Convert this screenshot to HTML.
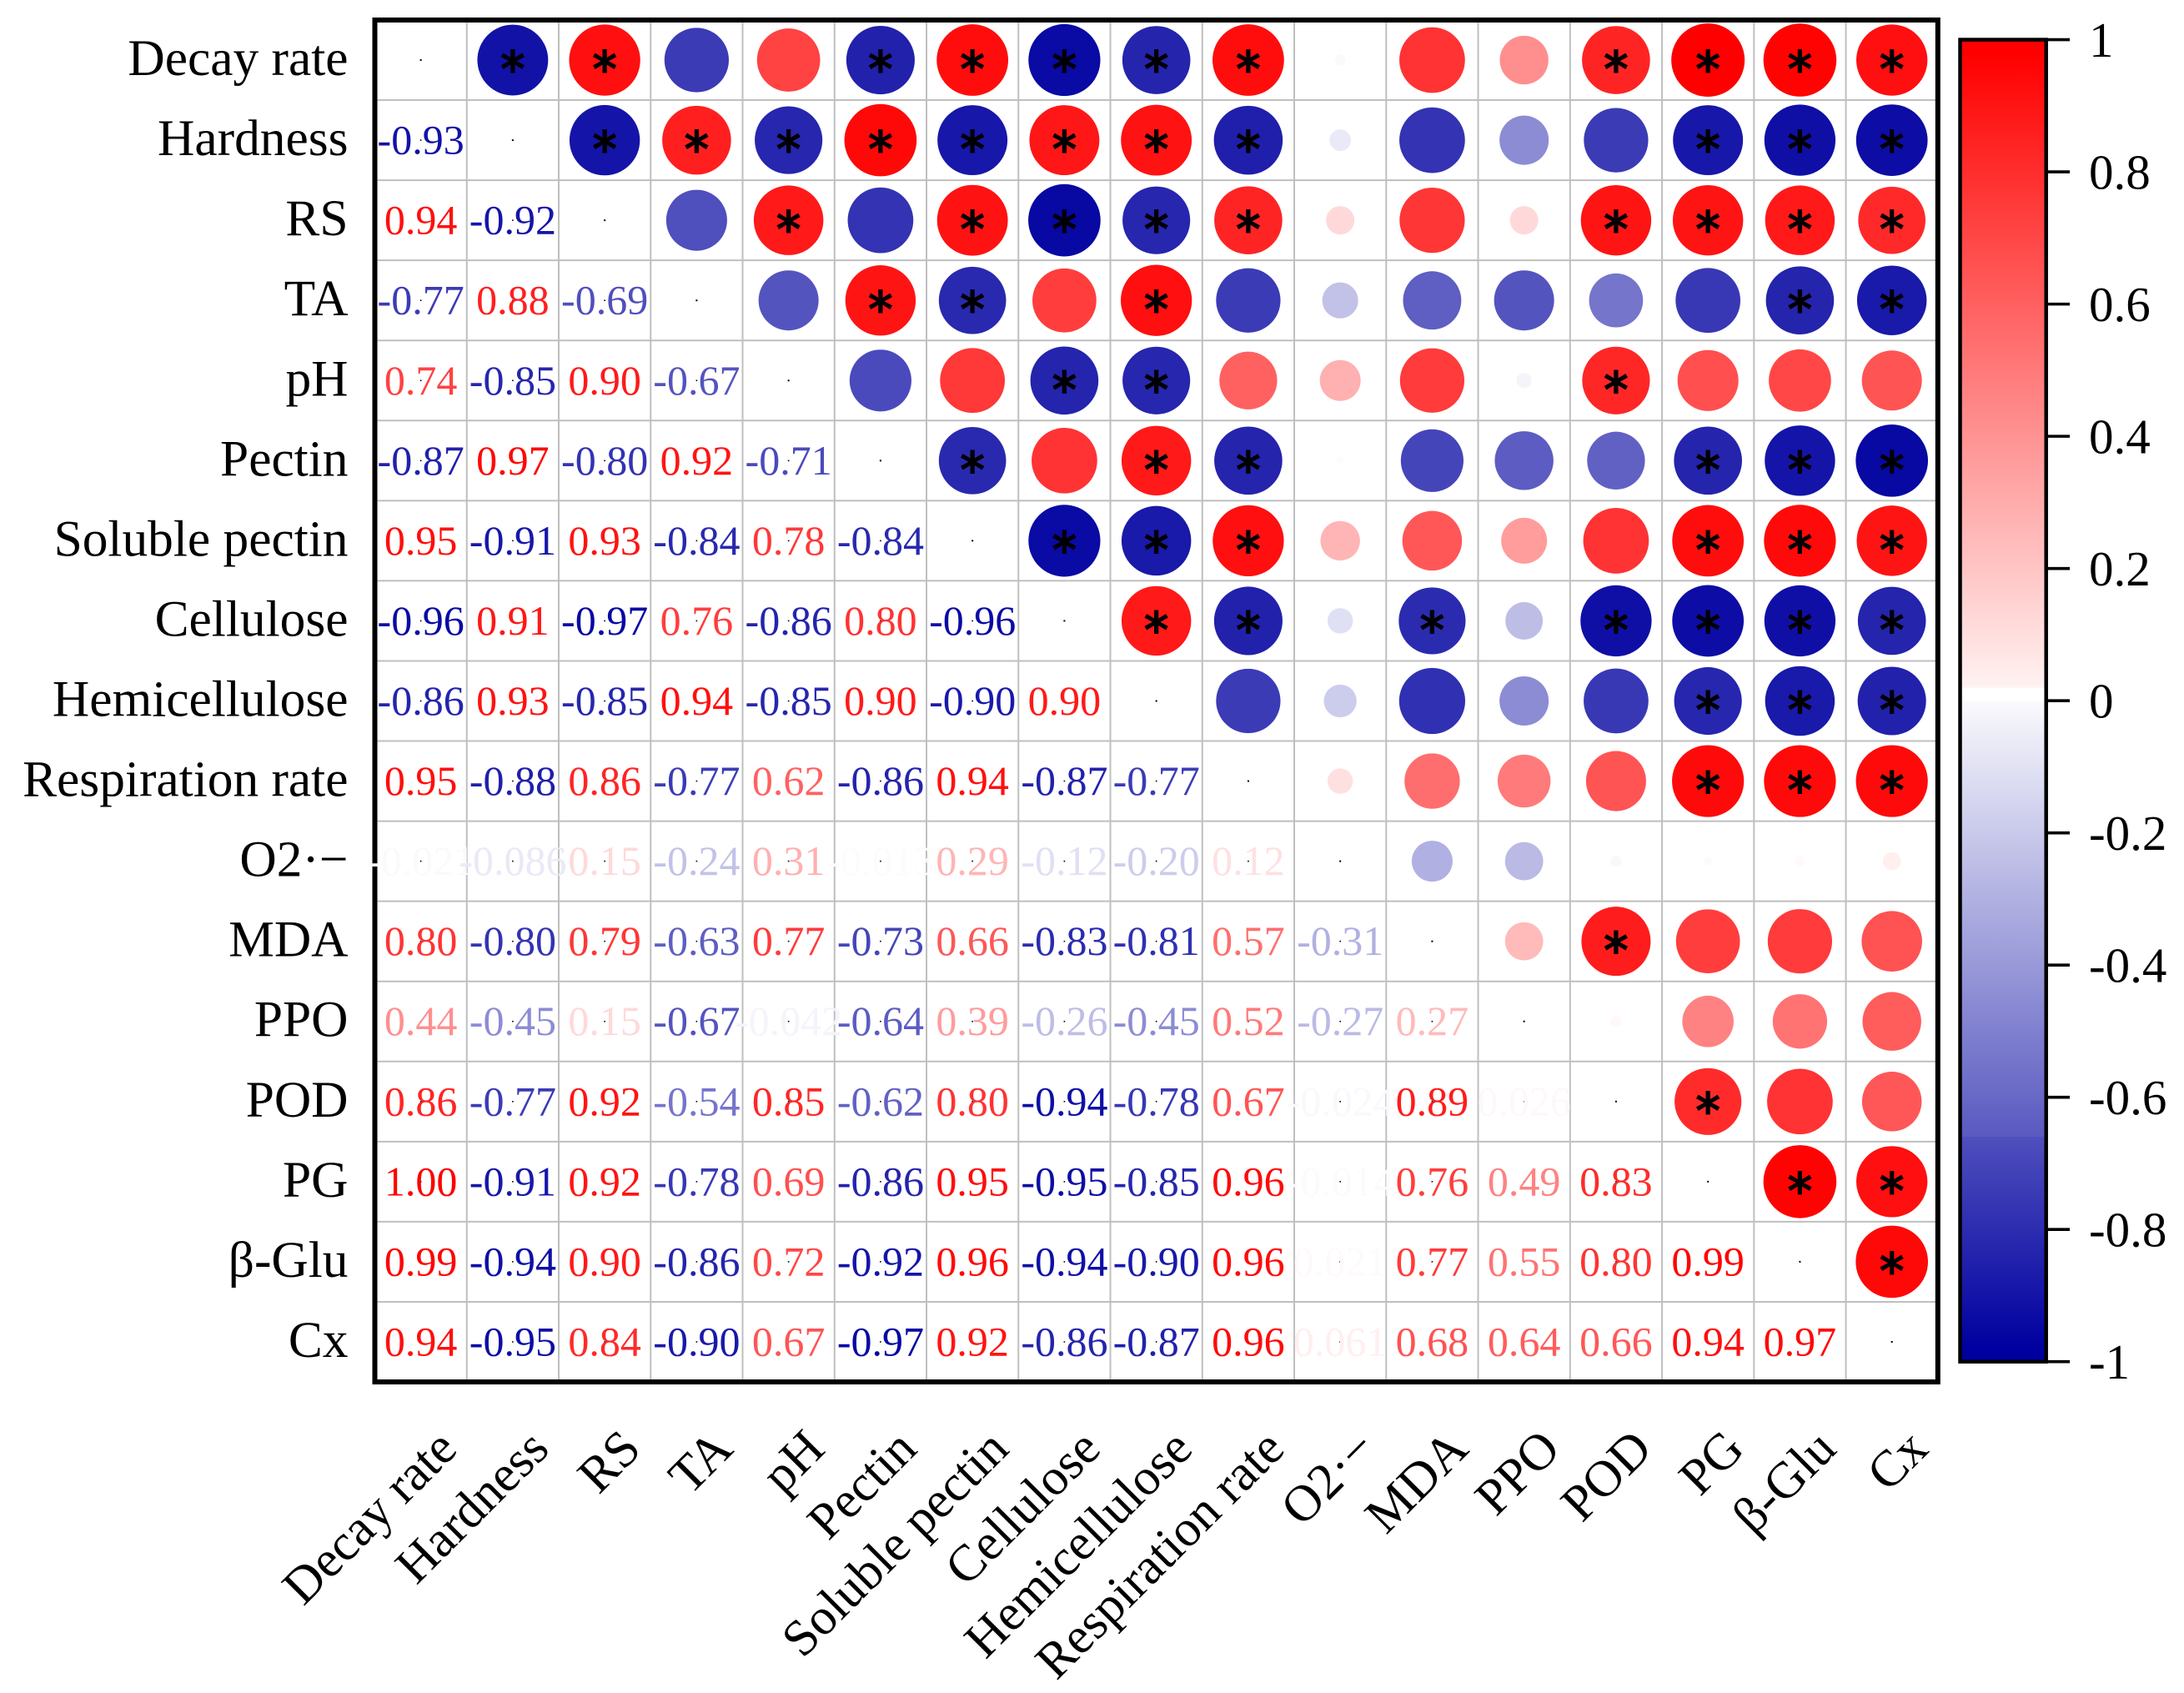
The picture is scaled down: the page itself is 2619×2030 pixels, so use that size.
<!DOCTYPE html>
<html lang="en">
<head>
<meta charset="utf-8">
<title>Correlation matrix</title>
<style>
html,body{margin:0;padding:0;background:#fff;}
svg{display:block;}
text{font-family:"Liberation Serif","Noto Serif CJK SC",serif;}
text.star{font-family:"DejaVu Sans",sans-serif;}
</style>
</head>
<body>
<svg id="chart" xmlns="http://www.w3.org/2000/svg" width="2619" height="2030" viewBox="0 0 2619 2030">
  <defs>
    <linearGradient id="legend-gradient" x1="0" y1="0" x2="0" y2="1"></linearGradient>
  </defs>
  <rect x="0" y="0" width="2619" height="2030" fill="#ffffff"></rect>
  <g id="grid"></g>
  <g id="circles"></g>
  <g id="stars"></g>
  <rect x="449.5" y="24" width="1874.3" height="1633" fill="none" stroke="#000000" stroke-width="6"></rect>
  <g id="dots"></g>
  <g id="values"></g>
  <g id="y-labels"></g>
  <g id="x-labels"></g>
  <g id="legend"></g>
</svg>
<script>
const variables = ["Decay rate","Hardness","RS","TA","pH","Pectin","Soluble pectin","Cellulose","Hemicellulose","Respiration rate","O2·−","MDA","PPO","POD","PG","β-Glu","Cx"];

const rowHardness = [-0.93];
const rowRS = [0.94,-0.92];
const rowTA = [-0.77,0.88,-0.69];
const rowPH = [0.74,-0.85,0.90,-0.67];
const rowPectin = [-0.87,0.97,-0.80,0.92,-0.71];
const rowSoluble = [0.95,-0.91,0.93,-0.84,0.78,-0.84];
const rowCellulose = [-0.96,0.91,-0.97,0.76,-0.86,0.80,-0.96];
const rowHemi = [-0.86,0.93,-0.85,0.94,-0.85,0.90,-0.90,0.90];
const rowResp = [0.95,-0.88,0.86,-0.77,0.62,-0.86,0.94,-0.87,-0.77];
const rowO2 = [-0.021,-0.086,0.15,-0.24,0.31,-0.013,0.29,-0.12,-0.20,0.12];
const rowMDA = [0.80,-0.80,0.79,-0.63,0.77,-0.73,0.66,-0.83,-0.81,0.57,-0.31];
const rowPPO = [0.44,-0.45,0.15,-0.67,-0.042,-0.64,0.39,-0.26,-0.45,0.52,-0.27,0.27];
const rowPOD = [0.86,-0.77,0.92,-0.54,0.85,-0.62,0.80,-0.94,-0.78,0.67,-0.024,0.89,0.026];
const rowPG = [1.00,-0.91,0.92,-0.78,0.69,-0.86,0.95,-0.95,-0.85,0.96,-0.014,0.76,0.49,0.83];
const rowGlu = [0.99,-0.94,0.90,-0.86,0.72,-0.92,0.96,-0.94,-0.90,0.96,0.021,0.77,0.55,0.80,0.99];
const rowCx = [0.94,-0.95,0.84,-0.90,0.67,-0.97,0.92,-0.86,-0.87,0.96,0.061,0.68,0.64,0.66,0.94,0.97];

const lowerTriangle = [[],rowHardness,rowRS,rowTA,rowPH,rowPectin,rowSoluble,rowCellulose,rowHemi,rowResp,rowO2,rowMDA,rowPPO,rowPOD,rowPG,rowGlu,rowCx];
const significanceCutoff = 0.82;
const legendTicks = [1,0.8,0.6,0.4,0.2,0,-0.2,-0.4,-0.6,-0.8,-1];

const NS = "http://www.w3.org/2000/svg";
const plotLeft = 449.5, plotRight = 2323.8, plotTop = 24, plotBottom = 1657;
const legendTop = 47.6, legendBottom = 1632.7;
const n = variables.length;
const stepX = (plotRight - plotLeft) / n;
const stepY = (plotBottom - plotTop) / n;

function xCenter(i){ return plotLeft + stepX * (i + 0.5); }
function yCenter(i){ return plotTop + stepY * (i + 0.5); }
function radius(v){ return 44 * Math.sqrt(Math.abs(v)); }
function legendY(v){ return legendTop + (1 - v) / 2 * (legendBottom - legendTop); }
function color(v){
  const t = Math.min(1, Math.abs(v));
  if (v >= 0) {
    const c = Math.round(255 * (1 - t));
    return "rgb(255," + c + "," + c + ")";
  }
  const c = Math.round(255 * (1 - t));
  const b = Math.round(255 - (255 - 160) * t);
  return "rgb(" + c + "," + c + "," + b + ")";
}
function fmt(v){
  const a = Math.abs(v);
  const s = a < 0.1 && a > 0 ? String(a) : a.toFixed(2);
  return (v < 0 ? "-" : "") + s;
}
function make(tag, attrs, parent, txt){
  const el = document.createElementNS(NS, tag);
  for (const k in attrs) el.setAttribute(k, attrs[k]);
  if (txt !== undefined) el.textContent = txt;
  parent.appendChild(el);
  return el;
}
function slug(s){ return s.toLowerCase().replace(/[^a-z0-9]+/g, "-").replace(/^-|-$/g, ""); }

const gridG = document.getElementById("grid");
const circlesG = document.getElementById("circles");
const starsG = document.getElementById("stars");
const dotsG = document.getElementById("dots");
const valuesG = document.getElementById("values");
const yG = document.getElementById("y-labels");
const xG = document.getElementById("x-labels");
const legendG = document.getElementById("legend");

for (let i = 1; i < n; i++) {
  const vx = plotLeft + stepX * i;
  const v = make("line", {x1: vx, x2: vx, y1: plotTop, y2: plotBottom, stroke: "#bfbfbf", "stroke-width": 2}, gridG);
  
  
  const hy = plotTop + stepY * i;
  const h = make("line", {x1: plotLeft, x2: plotRight, y1: hy, y2: hy, stroke: "#bfbfbf", "stroke-width": 2}, gridG);
  
  
}

for (let r = 0; r < n; r++) {
  for (let c = 0; c < r; c++) {
    const value = lowerTriangle[r][c];
    const pair = slug(variables[r]) + "-" + slug(variables[c]);

    const circ = make("ellipse", {cx: xCenter(r), cy: yCenter(c), rx: radius(value), ry: radius(value), fill: color(value)}, circlesG);
    
    

    if (Math.abs(value) >= significanceCutoff) {
      const star = make("text", {class: "star", x: xCenter(r), y: yCenter(c) + 31, "text-anchor": "middle", "font-size": 58, fill: "#000", stroke: "#000", "stroke-width": 2}, starsG, "*");
      
      
    }

    const dot = make("rect", {x: xCenter(c) - 0.8, y: yCenter(r) - 0.8, width: 1.6, height: 1.6, fill: "#000"}, dotsG);
    
    

    const label = make("text", {x: xCenter(c), y: yCenter(r) + 16.5, "text-anchor": "middle", "font-size": 50, fill: color(value)}, valuesG, fmt(value));
    
    
  }
  const diag = make("rect", {x: xCenter(r) - 1, y: yCenter(r) - 1, width: 2, height: 2, fill: "#000"}, dotsG);
  
  
}

variables.forEach(function(name, i){
  const yl = make("text", {x: 417.5, y: yCenter(i) + 18, "text-anchor": "end", "font-size": 61.4, fill: "#000"}, yG, name);
  
  

  const ax = xCenter(i) + 46, ay = 1740;
  const xl = make("text", {x: ax, y: ay, "text-anchor": "end", "font-size": 61.4, fill: "#000", transform: "rotate(-45 " + ax + " " + ay + ")"}, xG, name);
  
  
});

/* legend gradient: position value, then the value whose colour is shown there */
const legendStopPositions = [1, 0.98, 0.02, 0.02, 0, 0, -0.66, -0.66, -0.98, -1];
const legendStopValues = [1, 1, 0.05, 0, 0, -0.02, -0.65, -0.69, -1, -1];
const grad = document.getElementById("legend-gradient");
legendStopPositions.forEach(function(p, i){
  make("stop", {offset: ((1 - p) / 2 * 100) + "%", "stop-color": color(legendStopValues[i])}, grad);
});

const bar = make("rect", {x: 2350.5, y: legendY(1), width: 103.2, height: legendY(-1) - legendY(1), fill: "url(#legend-gradient)", stroke: "#000", "stroke-width": 4.5}, legendG);



legendTicks.forEach(function(t){
  const ty = legendY(t);
  const tick = make("line", {x1: 2454, x2: 2482, y1: ty, y2: ty, stroke: "#000", "stroke-width": 3.6}, legendG);
  
  
  const tl = make("text", {x: 2505, y: ty + 20.5, "font-size": 59, fill: "#000"}, legendG, String(t));
  
  
});
</script>
</body>
</html>
